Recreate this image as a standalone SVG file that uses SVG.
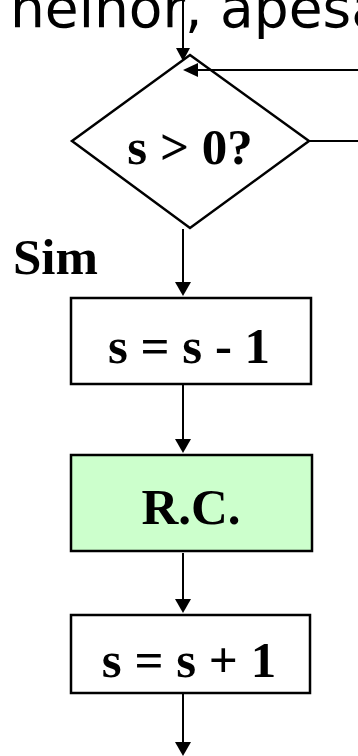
<svg xmlns="http://www.w3.org/2000/svg" width="358" height="756" viewBox="0 0 358 756">
<defs>
<style>
.ln{stroke:#000;stroke-width:2;fill:none}
.ah{fill:#000;stroke:none}
.nd{stroke:#000;stroke-width:2.5;fill:#fff}
.t{font-family:"Liberation Serif","Times New Roman",serif;font-weight:bold;font-size:51px;fill:#000;text-anchor:middle}
</style>
</defs>
<rect width="358" height="756" fill="#fff"/>
<text id="title" x="10" y="27" style="font-family:'DejaVu Sans',Verdana,sans-serif;font-size:55px;fill:#000">neinor, apesa</text>
<g id="decision">
<polygon class="nd" points="190,55 309,141 190,228 72,141"/>
<text class="t" x="190" y="164">s &gt; 0?</text>
</g>
<text id="sim" x="13" y="274" style="font-family:'Liberation Serif','Times New Roman',serif;font-weight:bold;font-size:51px;fill:#000">Sim</text>
<g id="dec">
<rect class="nd" x="71" y="298" width="240" height="86"/>
<text class="t" x="189" y="363">s = s - 1</text>
</g>
<g id="rc">
<rect class="nd" x="71" y="455" width="241" height="96" style="fill:#ccffcc"/>
<text class="t" x="191" y="524">R.C.</text>
</g>
<g id="inc">
<rect class="nd" x="71" y="615" width="239" height="78"/>
<text class="t" x="189" y="677">s = s + 1</text>
</g>
<g id="connectors">
<line class="ln" x1="183" y1="0" x2="183" y2="50"/>
<path class="ah" d="M176,48 L190,48 L183,61 Z"/>
<line class="ln" x1="358" y1="70" x2="196" y2="70"/>
<path class="ah" d="M198,63 L198,77 L183,70 Z"/>
<line class="ln" x1="309" y1="141" x2="358" y2="141"/>
<line class="ln" x1="183" y1="229" x2="183" y2="284"/>
<path class="ah" d="M175,282 L191,282 L183,296 Z"/>
<line class="ln" x1="183" y1="385" x2="183" y2="441"/>
<path class="ah" d="M175,439 L191,439 L183,453 Z"/>
<line class="ln" x1="183" y1="553" x2="183" y2="601"/>
<path class="ah" d="M175,599 L191,599 L183,613 Z"/>
<line class="ln" x1="183" y1="694" x2="183" y2="744"/>
<path class="ah" d="M175,742 L191,742 L183,756 Z"/>
</g>
</svg>
